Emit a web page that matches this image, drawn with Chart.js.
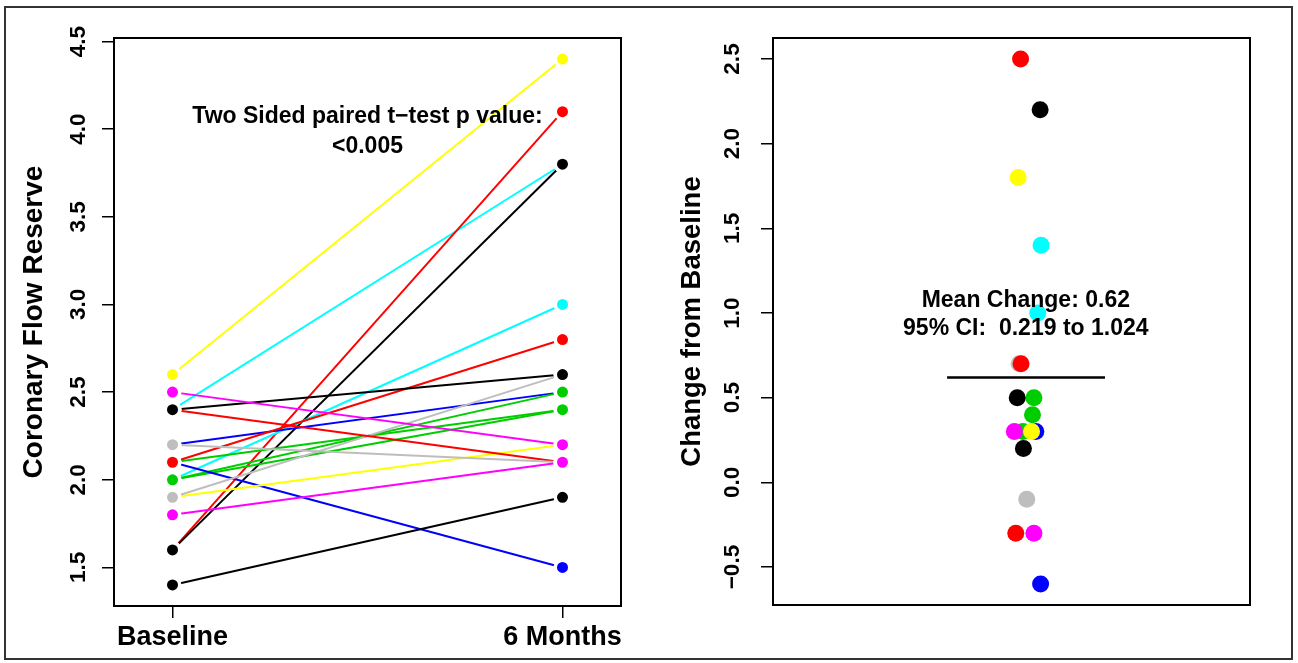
<!DOCTYPE html>
<html>
<head>
<meta charset="utf-8">
<script src="https://cdn.jsdelivr.net/npm/chart.js@4.4.1/dist/chart.umd.min.js"></script>
<style>
  html, body { margin: 0; padding: 0; background: #fff; }
  #wrap { position: relative; width: 1298px; height: 663px; overflow: hidden; }
  #wrap canvas { position: absolute; left: 0; top: 0; }
  #frame { position: absolute; left: 4px; top: 6px; width: 1285px; height: 650px; border: 2px solid #333; }
</style>
</head>
<body>
<div id="wrap">
  <div id="frame"></div>
  <canvas id="cfr" width="1298" height="663"></canvas>
  <canvas id="delta" width="1298" height="663"></canvas>
</div>
<script>
// ---- data (one entry per patient, same order everywhere) ----
const TIMEPOINTS = ["Baseline", "6 Months"];
const COLORS     = ["cyan", "red", "black", "yellow", "cyan", "blue", "green", "green", "green", "blue",
                    "yellow", "gray", "red", "red", "black", "gray", "magenta", "magenta", "black"];
const BASELINE   = [2.4, 1.6, 1.6, 2.6, 2.0, 2.2, 2.0, 2.0, 2.1, 2.1, 1.9, 1.9, 2.1, 2.4, 2.4, 2.2, 2.5, 1.8, 1.4];
const SIX_MONTHS = [3.8, 4.1, 3.8, 4.4, 3.0, 2.5, 2.5, 2.4, 2.4, 1.5, 2.2, 2.6, 2.8, 2.1, 2.6, 2.1, 2.2, 2.1, 1.9];
const CHANGE     = [1.4, 2.5, 2.2, 1.8, 1.0, 0.3, 0.5, 0.4, 0.3, -0.6, 0.3, 0.7, 0.7, -0.3, 0.2, -0.1, -0.3, 0.3, 0.5];
const JITTER     = [1.062, 1.019, 1.060, 1.014, 1.055, 1.051, 1.047, 1.044, 1.024, 1.061,
                    1.042, 1.016, 1.020, 1.009, 1.025, 1.032, 1.047, 1.006, 1.012];
const CFR_TICKS    = [1.5, 2.0, 2.5, 3.0, 3.5, 4.0, 4.5];
const CHANGE_TICKS = [-0.5, 0.0, 0.5, 1.0, 1.5, 2.0, 2.5];
const MEAN_CHANGE = 0.62;
const MEAN_SPAN   = [0.865, 1.196];
const P_TEXT    = ["Two Sided paired t\u2212test p value:", "<0.005"];
const MEAN_TEXT = ["Mean Change: 0.62", "95% CI:  0.219 to 1.024"];

const PALETTE = {
  yellow: "#ffff00", red: "#ff0000", black: "#000000", cyan: "#00ffff",
  blue: "#0000ff", magenta: "#ff00ff", green: "#00cd00", gray: "#bebebe",
};
const FONT = '"Liberation Sans", Arial, Helvetica, sans-serif';

const fmt = v => (v < 0 ? "\u2212" : "") + Math.abs(v).toFixed(1);

// box round the plot region, like R's box()
const boxPlugin = {
  id: "box",
  afterDraw(chart) {
    const { ctx, chartArea: a } = chart;
    ctx.save();
    ctx.lineWidth = 2;
    ctx.strokeStyle = "#000";
    ctx.strokeRect(a.left, a.top, a.right - a.left, a.bottom - a.top);
    ctx.restore();
  },
};

// centred multi-line text placed in data units
const notePlugin = {
  id: "note",
  afterDatasetsDraw(chart, args, opts) {
    if (!opts.lines) return;
    const { ctx, scales } = chart;
    const cx = scales.x.getPixelForValue(opts.x);
    const cy = scales.y.getPixelForValue(opts.y) + 2;
    ctx.save();
    ctx.font = "bold 23px " + FONT;
    ctx.fillStyle = "#000";
    ctx.textAlign = "center";
    ctx.textBaseline = "middle";
    opts.lines.forEach((t, i) => {
      ctx.fillText(t, cx, cy + (i - (opts.lines.length - 1) / 2) * opts.gap);
    });
    ctx.restore();
  },
};

function yAxis(ticks, min, max, width, title, titleSize, titlePad, labelPad) {
  return {
    type: "linear", min, max,
    afterBuildTicks: s => { s.ticks = ticks.map(v => ({ value: v })); },
    afterFit: s => { s.width = width; },
    border: { display: false },
    grid: { drawOnChartArea: false, drawTicks: true, tickLength: 12, color: "#000", lineWidth: 1.5 },
    ticks: {
      color: "#000", autoSkip: false, minRotation: 90, maxRotation: 90, crossAlign: "center",
      padding: labelPad, font: { family: FONT, size: 22.5, weight: "bold" }, callback: v => fmt(v),
    },
    title: {
      display: true, text: title, color: "#000",
      font: { family: FONT, size: titleSize, weight: "bold" }, padding: { top: titlePad, bottom: 0 },
    },
  };
}

const common = {
  responsive: false, animation: false, devicePixelRatio: 1, events: [],
};

// ---- left panel: paired values ----
const lineSets = COLORS.map((c, i) => ({
  data: [{ x: 1, y: BASELINE[i] }, { x: 2, y: SIX_MONTHS[i] }],
  showLine: true, borderColor: PALETTE[c], borderWidth: 2, pointRadius: 0, order: 100 - i,
}));
const pointSet = {
  data: [...BASELINE.map(v => ({ x: 1, y: v })), ...SIX_MONTHS.map(v => ({ x: 2, y: v }))],
  pointRadius: 7.25, pointBorderWidth: 3.5, pointBorderColor: "#fff",
  pointBackgroundColor: [...COLORS, ...COLORS].map(c => PALETTE[c]), order: 0,
};

new Chart(document.getElementById("cfr"), {
  type: "scatter",
  data: { datasets: [...lineSets, pointSet] },
  plugins: [boxPlugin, notePlugin],
  options: {
    ...common,
    layout: { padding: { left: 0, top: 38, right: 677, bottom: 0 } },
    plugins: {
      legend: { display: false }, tooltip: { enabled: false },
      note: { x: 1.5, y: 4.0, lines: P_TEXT, gap: 30 },
    },
    scales: {
      x: {
        type: "linear", min: 0.85, max: 2.15,
        afterBuildTicks: s => { s.ticks = TIMEPOINTS.map((_, i) => ({ value: i + 1 })); },
        afterFit: s => { s.height = 57; },
        border: { display: false },
        grid: { drawOnChartArea: false, drawTicks: true, tickLength: 12, color: "#000", lineWidth: 1.5 },
        ticks: {
          color: "#000", autoSkip: false, maxRotation: 0, padding: 3,
          font: { family: FONT, size: 27, weight: "bold" }, callback: v => TIMEPOINTS[v - 1],
        },
      },
      y: yAxis(CFR_TICKS, 1.28, 4.52, 114, "Coronary Flow Reserve", 28, 17, 8),
    },
  },
});

// ---- right panel: change from baseline ----
new Chart(document.getElementById("delta"), {
  type: "scatter",
  data: {
    datasets: [
      {
        data: CHANGE.map((v, i) => ({ x: JITTER[i], y: v })),
        pointRadius: 8.5, pointBorderWidth: 0,
        pointBackgroundColor: COLORS.map(c => PALETTE[c]), order: 1,
      },
      {
        data: MEAN_SPAN.map(x => ({ x, y: MEAN_CHANGE })),
        showLine: true, borderColor: "#000", borderWidth: 2.5, pointRadius: 0, order: 0,
      },
    ],
  },
  plugins: [boxPlugin, notePlugin],
  options: {
    ...common,
    layout: { padding: { left: 660, top: 38, right: 48, bottom: 58 } },
    plugins: {
      legend: { display: false }, tooltip: { enabled: false },
      note: { x: 1.03, y: 1.0, lines: MEAN_TEXT, gap: 28 },
    },
    scales: {
      x: { type: "linear", min: 0.5, max: 1.5, display: false },
      y: yAxis(CHANGE_TICKS, -0.724, 2.624, 113, "Change from Baseline", 27.5, 16, 6),
    },
  },
});
</script>
</body>
</html>
